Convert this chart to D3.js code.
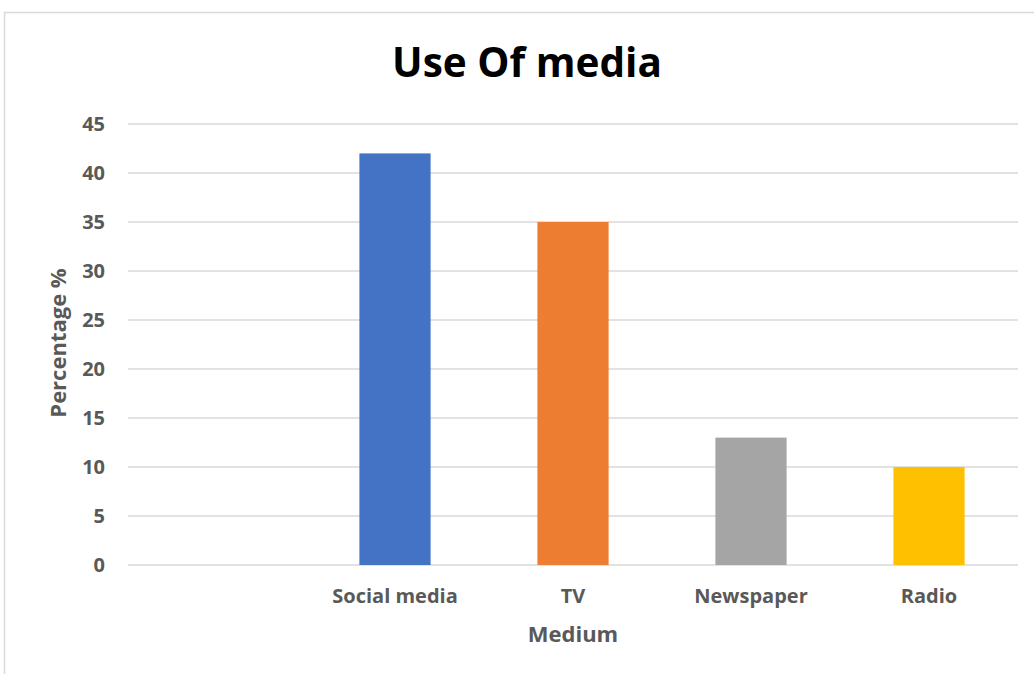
<!DOCTYPE html>
<html>
<head>
<meta charset="utf-8">
<script src="https://cdnjs.cloudflare.com/ajax/libs/d3/7.8.5/d3.min.js"></script>
<style>
  body { margin: 0; background: #fff; }
  text { font-family: "Open Sans", "Noto Sans", sans-serif; }
</style>
</head>
<body>
<svg width="1034" height="674"></svg>
<script>
// chart data
const categories = ["", "Social media", "TV", "Newspaper", "Radio"];
const values = [null, 42, 35, 13, 10];
const barColors = ["none", "#4472C4", "#ED7D31", "#A5A5A5", "#FFC000"];
const yTicks = [0, 5, 10, 15, 20, 25, 30, 35, 40, 45];

let svg = d3.select("svg"),
    margin = { top: 124, right: 16, bottom: 109, left: 128 },
    width = svg.attr("width") - margin.left - margin.right,
    height = svg.attr("height") - margin.top - margin.bottom,
    g = svg.append("g").attr("transform", "translate(" + margin.left + "," + margin.top + ")");

// chart border
svg.append("rect")
    .attr("x", 4.5)
    .attr("y", 12.5)
    .attr("width", 1100)
    .attr("height", 1000)
    .attr("fill", "none")
    .attr("stroke", "#d9d9d9")
    .attr("stroke-width", 1.5);

let x = d3.scaleBand()
    .domain(categories)
    .range([0, width])
    .paddingInner(0.6)
    .paddingOuter(0.3);

let y = d3.scaleLinear()
    .domain([0, 45])
    .range([height, 0]);

// gridlines
g.append("g")
    .selectAll("line")
    .data(yTicks)
    .enter().append("line")
    .attr("x1", 0)
    .attr("x2", width)
    .attr("y1", d => y(d))
    .attr("y2", d => y(d))
    .attr("stroke", "#d9d9d9")
    .attr("stroke-width", 1.5);

// y axis labels
let yAxis = g.append("g")
    .call(d3.axisLeft(y).tickValues(yTicks).tickSize(0).tickPadding(23));
yAxis.select(".domain").remove();
yAxis.selectAll("text")
    .attr("fill", "#595959")
    .style("font-size", "20px")
    .style("font-weight", "bold")
    .style("font-family", "'Open Sans', sans-serif");

// bars
g.selectAll(".bar")
    .data(categories.map((c, i) => ({ cat: c, value: values[i], color: barColors[i] })).filter(d => d.value != null))
    .enter().append("rect")
    .attr("class", "bar")
    .attr("x", d => x(d.cat))
    .attr("width", x.bandwidth())
    .attr("y", d => y(d.value))
    .attr("height", d => height - y(d.value))
    .attr("fill", d => d.color);

// x axis labels
let xAxis = g.append("g")
    .attr("transform", "translate(0," + height + ")")
    .call(d3.axisBottom(x).tickSize(0).tickPadding(24));
xAxis.select(".domain").remove();
xAxis.selectAll("text")
    .attr("fill", "#595959")
    .style("font-size", "20px")
    .style("font-weight", "bold")
    .style("font-family", "'Open Sans', sans-serif");

// title
svg.append("text")
    .attr("x", 527)
    .attr("y", 77)
    .attr("text-anchor", "middle")
    .style("font-size", "40.5px")
    .style("font-weight", "bold")
    .attr("fill", "#000")
    .text("Use Of media");

// axis titles
svg.append("text")
    .attr("x", 573)
    .attr("y", 642)
    .attr("text-anchor", "middle")
    .style("font-size", "22px")
    .style("font-weight", "bold")
    .attr("fill", "#595959")
    .text("Medium");

svg.append("text")
    .attr("transform", "translate(66,343) rotate(-90)")
    .attr("text-anchor", "middle")
    .style("font-size", "22px")
    .style("font-weight", "bold")
    .attr("fill", "#595959")
    .text("Percentage %");
</script>
</body>
</html>
